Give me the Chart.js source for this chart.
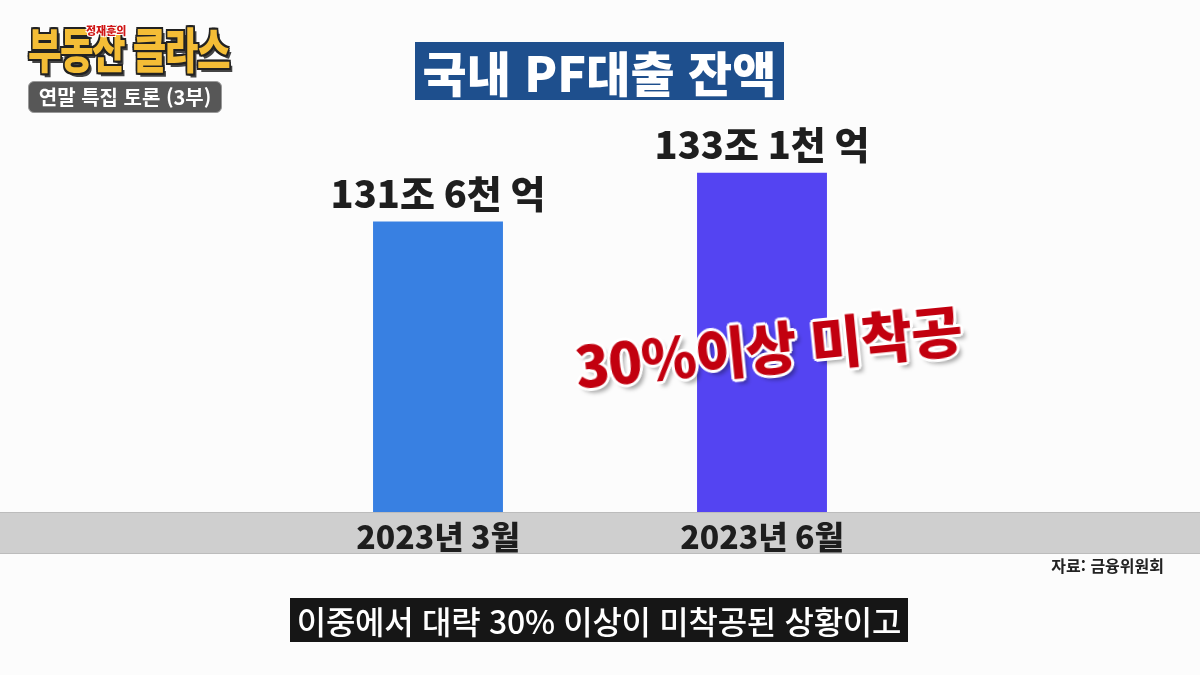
<!DOCTYPE html>
<html lang="ko">
<head>
<meta charset="utf-8">
<script src="https://cdn.jsdelivr.net/npm/chart.js@4"></script>
<style>
  html, body { margin: 0; padding: 0; background: #fcfcfc; }
  #wrap { position: relative; width: 1200px; height: 675px; overflow: hidden; font-family: 'Noto Sans CJK KR', sans-serif; }
  #chart { position: absolute; left: 0; top: 0; }
  .abs { position: absolute; white-space: nowrap; }
  #logo { left: 28px; top: 12px; font-size: 48px; font-weight: 900; color: #f4bd36; letter-spacing: -2px;
    transform: scaleX(0.76); transform-origin: left top;
    text-shadow: 2px 2px 0 #222, -2px -2px 0 #222, 2px -2px 0 #222, -2px 2px 0 #222, 0 2px 0 #222, 2px 0 0 #222, -2px 0 0 #222, 0 -2px 0 #222, 4px 4px 0 #444; }
  #logoSmall { left: 86px; top: 22px; font-size: 11px; font-weight: 900; color: #d01616;
    text-shadow: 1px 1px 0 #fff, -1px -1px 0 #fff, 1px -1px 0 #fff, -1px 1px 0 #fff; }
  #episode { left: 28px; top: 81px; width: 194px; height: 32px; background: #575757; border-radius: 6px; border: 1px solid #999;
    box-sizing: border-box; color: #fff; font-size: 20px; font-weight: 700; text-align: center; line-height: 30px; }
  #title { left: 415px; top: 42px; width: 369px; height: 58px; background: #1e4f8d; color: #fff; font-size: 48px; font-weight: 900;
    text-align: center; line-height: 58px; }
  #note { left: 768px; top: 345px; transform: translate(-50%, -50%) rotate(-5.6deg); font-size: 56px; font-weight: 900; color: #c2000f;
    letter-spacing: -1px;
    text-shadow: 3px 0 0 #fff, -3px 0 0 #fff, 0 3px 0 #fff, 0 -3px 0 #fff, 2px 2px 0 #fff, -2px -2px 0 #fff, 2px -2px 0 #fff, -2px 2px 0 #fff, 4px 5px 4px rgba(0,0,0,0.35); }
  #source { right: 36px; top: 553px; font-size: 16px; font-weight: 700; color: #222; }
  #caption { left: 290px; top: 598px; width: 618px; height: 44px; background: #161616; color: #fff; font-size: 32px; font-weight: 500;
    text-align: center; line-height: 44px; letter-spacing: -0.3px; }
</style>
</head>
<body>
<div id="wrap">
  <canvas id="chart" width="1200" height="675"></canvas>
  <div class="abs" id="logo">부동산 클라스</div>
  <div class="abs" id="logoSmall">정재훈의</div>
  <div class="abs" id="episode">연말 특집 토론 (3부)</div>
  <div class="abs" id="title">국내 PF대출 잔액</div>
  <div class="abs" id="note">30%이상 미착공</div>
  <div class="abs" id="source">자료: 금융위원회</div>
  <div class="abs" id="caption">이중에서 대략 30% 이상이 미착공된 상황이고</div>
</div>
<script>
const categories = ['2023년 3월', '2023년 6월'];
const balances = [131.6, 133.1];          // 조 원
const valueLabels = ['131조 6천 억', '133조 1천 억'];
const barColors = ['#3880e2', '#5444f2'];

// grey band behind the x labels
const bandPlugin = {
    id: 'band',
    beforeDraw(chart) {
        let { ctx, chartArea } = chart;
        ctx.save();
        ctx.fillStyle = '#cfcfcf';
        ctx.fillRect(0, chartArea.bottom, chart.width, 42);
        ctx.fillStyle = '#bcbcbc';
        ctx.fillRect(0, chartArea.bottom, chart.width, 1);
        ctx.fillRect(0, chartArea.bottom + 41, chart.width, 1);
        ctx.restore();
    }
};

// value text above each bar
const valuePlugin = {
    id: 'values',
    afterDatasetsDraw(chart) {
        let ctx = chart.ctx;
        let meta = chart.getDatasetMeta(0);
        ctx.save();
        ctx.font = "900 38px 'Noto Sans CJK KR'";
        ctx.fillStyle = '#1e1e1e';
        ctx.textAlign = 'center';
        ctx.textBaseline = 'alphabetic';
        meta.data.forEach((bar, i) => {
            ctx.fillText(valueLabels[i], bar.x, bar.y - 14);
        });
        ctx.restore();
    }
};

new Chart(document.getElementById('chart'), {
    type: 'bar',
    data: {
        labels: categories,
        datasets: [{
            data: balances,
            backgroundColor: barColors,
            borderWidth: 0,
            barPercentage: 1,
            categoryPercentage: 0.401
        }]
    },
    options: {
        responsive: false,
        animation: false,
        layout: { padding: { left: 276, right: 276, top: 140, bottom: 0 } },
        plugins: { legend: { display: false }, tooltip: { enabled: false } },
        scales: {
            x: {
                grid: { display: false, drawTicks: false },
                border: { display: false },
                ticks: {
                    padding: 6,
                    color: '#1e1e1e',
                    font: { family: 'Noto Sans CJK KR', size: 32, weight: '900' }
                },
                afterFit: s => { s.height = 163; }
            },
            y: {
                display: false,
                min: 122.7,
                max: 134.1
            }
        }
    },
    plugins: [bandPlugin, valuePlugin]
});
</script>
</body>
</html>
